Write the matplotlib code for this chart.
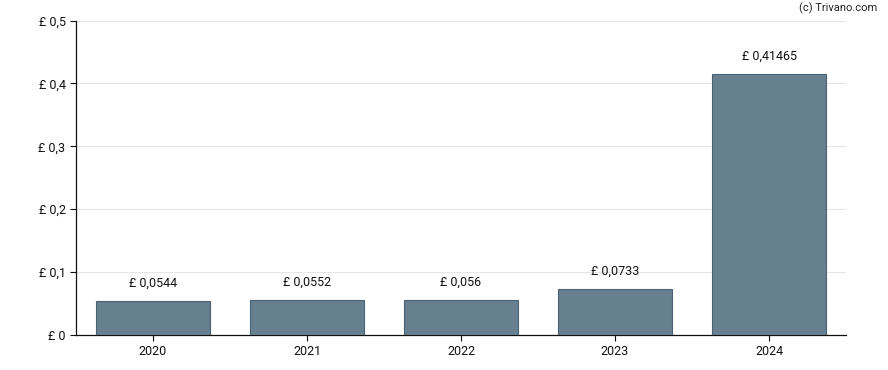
import matplotlib.pyplot as plt

plt.rcParams['font.family'] = ['Roboto', 'DejaVu Sans']

years = ['2020', '2021', '2022', '2023', '2024']
dividends = [0.0544, 0.0552, 0.056, 0.0733, 0.41465]
value_labels = ['£ 0,0544', '£ 0,0552', '£ 0,056', '£ 0,0733', '£ 0,41465']
y_ticks = [0, 0.1, 0.2, 0.3, 0.4, 0.5]
y_tick_labels = ['£ 0', '£ 0,1', '£ 0,2', '£ 0,3', '£ 0,4', '£ 0,5']

fig = plt.figure(figsize=(8.88, 3.7), dpi=100)
ax = fig.add_axes([76 / 888, 35 / 370, 770 / 888, 314.5 / 370])

x = range(len(years))
bars = ax.bar(x, dividends, width=0.74, color='#66808f', edgecolor='#4a6274',
              linewidth=0.8, zorder=3)

for xi, val, lab in zip(x, dividends, value_labels):
    ax.annotate(lab, (xi, val), xytext=(0, 8), textcoords='offset points',
                ha='center', va='bottom', fontsize=9, color='#111111')

ax.set_xlim(-0.5, 4.5)
ax.set_ylim(0, 0.5)
ax.set_xticks(list(x))
ax.set_xticklabels(years)
ax.set_yticks(y_ticks)
ax.set_yticklabels(y_tick_labels)
ax.tick_params(axis='both', labelsize=9, colors='#111111', length=4, width=0.8)
ax.grid(axis='y', color='#e6e6e6', linewidth=0.8, zorder=0)

for side in ['top', 'right']:
    ax.spines[side].set_visible(False)
for side in ['left', 'bottom']:
    ax.spines[side].set_color('#111111')
    ax.spines[side].set_linewidth(0.9)

fig.text(877 / 888, 1 - 8 / 370, '(c) Trivano.com', ha='right', va='center',
         fontsize=8, color='#222222')

fig.savefig('out.png', dpi=100)
